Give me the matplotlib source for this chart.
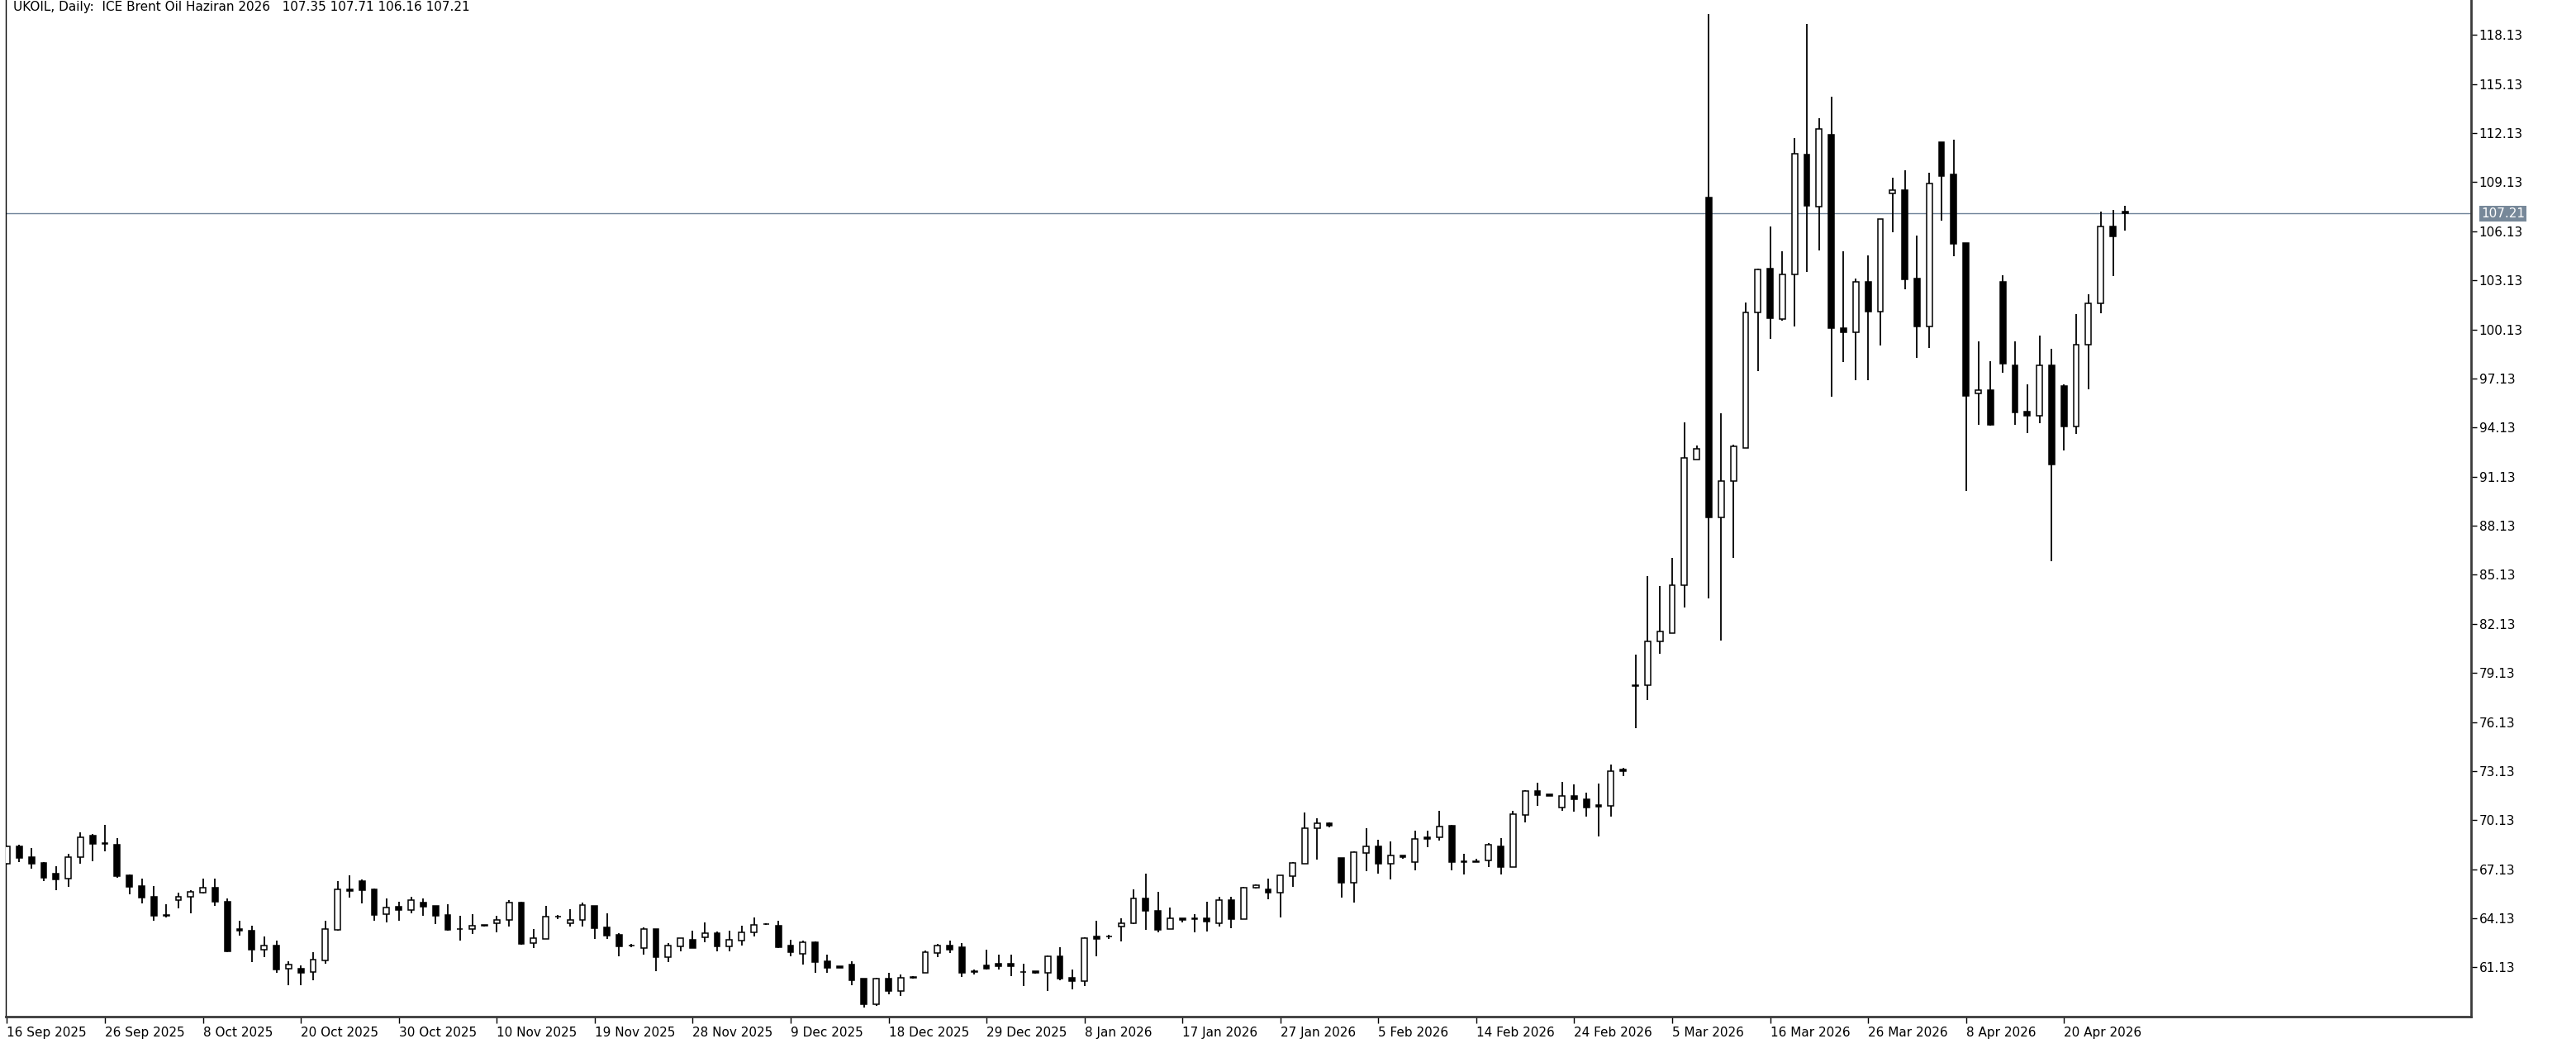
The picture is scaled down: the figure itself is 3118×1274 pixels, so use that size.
import numpy as np
import matplotlib.pyplot as plt
from matplotlib.transforms import blended_transform_factory

# ---- data (daily OHLC, one entry per bar) ----
title = 'UKOIL, Daily:  ICE Brent Oil Haziran 2026   107.35 107.71 106.16 107.21'

opens = [67.47, 68.53, 67.89, 67.52, 66.84, 66.54, 67.87, 69.20, 68.70, 68.63,
         66.76, 66.10, 65.45, 64.29, 65.23, 65.43, 65.70, 66.02, 65.16, 63.46,
         63.39, 62.23, 62.45, 61.04, 61.04, 60.85, 61.57, 63.43, 65.92, 66.41,
         65.92, 64.39, 64.82, 64.66, 65.08, 64.89, 64.32, 63.48, 63.46, 63.68,
         63.81, 64.02, 65.11, 62.62, 62.89, 64.22, 63.81, 64.02, 64.89, 63.58,
         63.12, 62.45, 62.33, 63.48, 61.78, 62.42, 62.82, 62.97, 63.21, 62.42,
         62.79, 63.26, 63.76, 63.68, 62.45, 61.94, 62.67, 61.52, 61.19, 61.32,
         60.43, 58.88, 60.43, 59.69, 60.56, 60.82, 62.03, 62.45, 62.38, 60.85,
         61.24, 61.36, 61.36, 60.85, 60.88, 60.82, 61.83, 60.51, 60.28, 63.01,
         63.00, 63.65, 63.81, 65.33, 64.60, 63.46, 64.13, 64.10, 64.15, 63.81,
         65.24, 64.10, 65.99, 65.92, 65.70, 66.71, 67.47, 69.62, 69.94, 67.80,
         66.32, 68.14, 68.53, 67.47, 67.97, 67.55, 69.10, 69.07, 69.77, 67.58,
         67.58, 67.67, 68.53, 67.26, 70.45, 71.89, 71.71, 70.92, 71.63, 71.42,
         71.04, 71.00, 73.22, 78.35, 78.40, 81.04, 81.59, 84.49, 92.17, 108.21,
         88.64, 90.87, 92.90, 101.16, 103.86, 100.76, 103.48, 110.82, 107.63, 112.03,
         100.23, 99.95, 103.04, 101.23, 108.45, 108.63, 103.22, 100.29, 111.56, 109.60,
         105.40, 96.20, 96.41, 103.04, 97.96, 95.10, 94.87, 97.96, 96.68, 94.20,
         99.20, 101.71, 106.42, 107.35]

highs = [68.60, 68.61, 68.44, 67.58, 67.33, 68.06, 69.40, 69.28, 69.86, 69.02,
         66.83, 66.57, 66.12, 65.01, 65.70, 65.87, 66.57, 66.57, 65.36, 63.96,
         63.68, 63.04, 62.75, 61.52, 61.24, 62.08, 63.96, 66.41, 66.76, 66.49,
         65.95, 65.36, 65.16, 65.45, 65.36, 64.90, 64.97, 64.30, 64.40, 63.75,
         64.30, 65.24, 65.16, 63.48, 64.89, 64.35, 64.69, 65.08, 64.90, 64.42,
         63.21, 62.55, 63.56, 63.49, 62.63, 62.94, 63.39, 63.88, 63.34, 63.39,
         63.68, 64.17, 63.85, 63.96, 62.84, 62.75, 62.72, 61.91, 61.21, 61.52,
         60.44, 60.51, 60.78, 60.68, 60.60, 62.16, 62.55, 62.75, 62.62, 61.02,
         62.20, 61.91, 61.91, 61.36, 60.89, 61.88, 62.37, 60.98, 62.97, 63.96,
         63.14, 64.15, 65.92, 66.84, 65.73, 64.77, 64.14, 64.40, 65.16, 65.45,
         65.45, 66.07, 66.18, 66.57, 66.75, 67.58, 70.61, 70.24, 69.99, 67.81,
         68.22, 69.66, 68.93, 68.81, 67.98, 69.47, 69.49, 70.72, 69.82, 68.06,
         67.75, 68.73, 69.02, 70.70, 71.96, 72.40, 71.72, 72.48, 72.30, 71.81,
         72.38, 73.53, 73.31, 80.23, 85.07, 84.43, 86.17, 94.43, 93.04, 119.43,
         95.02, 93.07, 101.77, 103.86, 106.41, 104.93, 111.83, 118.79, 113.05, 114.35,
         104.93, 103.22, 104.68, 106.87, 109.42, 109.87, 105.85, 109.69, 111.56, 111.74,
         105.40, 99.38, 98.19, 103.44, 99.38, 96.79, 99.77, 98.93, 96.79, 101.07,
         102.27, 107.34, 107.43, 107.71]

lows = [67.40, 67.55, 67.18, 66.41, 65.87, 66.07, 67.47, 67.64, 68.22, 66.62,
        65.58, 65.03, 63.98, 64.18, 64.74, 64.44, 65.65, 64.91, 62.08, 63.06,
        61.46, 61.74, 60.82, 60.06, 60.06, 60.35, 61.37, 63.40, 65.40, 65.03,
        63.96, 63.88, 63.96, 64.44, 64.27, 63.80, 63.40, 62.79, 63.17, 63.64,
        63.26, 63.63, 62.50, 62.33, 62.89, 64.10, 63.65, 63.63, 62.87, 62.87,
        61.83, 62.38, 61.91, 60.90, 61.46, 62.13, 62.30, 62.67, 62.13, 62.13,
        62.47, 63.04, 63.71, 62.30, 61.83, 61.29, 60.78, 60.78, 61.10, 60.03,
        58.66, 58.76, 59.50, 59.39, 60.45, 60.80, 61.74, 62.03, 60.53, 60.70,
        60.99, 60.99, 60.62, 59.97, 60.77, 59.69, 60.35, 59.77, 59.97, 61.83,
        62.87, 62.70, 63.80, 63.43, 63.26, 63.46, 63.90, 63.26, 63.34, 63.65,
        63.51, 64.08, 65.97, 65.28, 64.18, 66.04, 67.46, 67.72, 69.71, 65.40,
        65.11, 67.00, 66.88, 66.51, 67.75, 67.08, 68.48, 68.86, 67.08, 66.79,
        67.55, 67.25, 66.79, 67.25, 69.99, 71.00, 71.62, 70.70, 70.67, 70.36,
        69.15, 70.36, 72.80, 75.73, 77.47, 80.29, 81.59, 83.13, 92.17, 83.71,
        81.10, 86.17, 92.90, 97.57, 99.57, 100.67, 100.29, 103.66, 104.96, 96.03,
        98.12, 97.02, 97.02, 99.16, 106.08, 102.61, 98.41, 98.98, 106.76, 104.61,
        90.25, 94.31, 94.24, 97.47, 94.31, 93.81, 94.38, 85.97, 92.73, 93.75,
        96.45, 101.12, 103.37, 106.16]

closes = [68.53, 67.84, 67.47, 66.59, 66.52, 67.89, 69.10, 68.70, 68.75, 66.71,
          66.07, 65.41, 64.27, 64.30, 65.45, 65.73, 66.02, 65.14, 62.11, 63.40,
          62.21, 62.45, 60.99, 61.32, 60.82, 61.61, 63.48, 65.90, 65.78, 65.87,
          64.35, 64.77, 64.66, 65.24, 64.84, 64.27, 63.43, 63.46, 63.66, 63.70,
          64.02, 65.08, 62.55, 62.90, 64.22, 64.24, 64.02, 64.94, 63.51, 63.06,
          62.42, 62.46, 63.48, 61.74, 62.45, 62.90, 62.32, 63.21, 62.40, 62.82,
          63.29, 63.74, 63.78, 62.38, 62.05, 62.67, 61.46, 61.12, 61.12, 60.36,
          58.88, 60.43, 59.69, 60.48, 60.48, 62.08, 62.45, 62.21, 60.82, 60.86,
          61.07, 61.22, 61.22, 60.83, 60.78, 61.83, 60.43, 60.28, 62.92, 62.89,
          63.02, 63.85, 65.33, 64.57, 63.43, 64.13, 64.02, 64.08, 63.93, 65.24,
          64.10, 66.00, 66.17, 65.70, 66.74, 67.50, 69.62, 69.94, 69.79, 66.32,
          68.17, 68.53, 67.47, 67.97, 67.89, 68.98, 68.97, 69.74, 67.55, 67.59,
          67.60, 68.61, 67.26, 70.50, 71.89, 71.68, 71.63, 71.59, 71.39, 70.92,
          70.95, 73.11, 73.11, 78.40, 81.04, 81.68, 84.52, 92.26, 92.84, 88.64,
          90.87, 92.99, 101.16, 103.80, 100.81, 103.48, 110.88, 107.69, 112.41, 100.23,
          99.94, 103.04, 101.23, 106.87, 108.63, 103.17, 100.29, 109.03, 109.53, 105.36,
          96.07, 96.41, 94.31, 98.03, 95.05, 94.87, 97.96, 91.88, 94.20, 99.20,
          101.71, 106.42, 105.81, 107.21]

date_labels = ['16 Sep 2025', '26 Sep 2025', '8 Oct 2025', '20 Oct 2025', '30 Oct 2025',
               '10 Nov 2025', '19 Nov 2025', '28 Nov 2025', '9 Dec 2025', '18 Dec 2025',
               '29 Dec 2025', '8 Jan 2026', '17 Jan 2026', '27 Jan 2026', '5 Feb 2026',
               '14 Feb 2026', '24 Feb 2026', '5 Mar 2026', '16 Mar 2026', '26 Mar 2026',
               '8 Apr 2026', '20 Apr 2026']
bars_per_label = 8
price_ticks = [61.13, 64.13, 67.13, 70.13, 73.13, 76.13, 79.13, 82.13, 85.13, 88.13,
               91.13, 94.13, 97.13, 100.13, 103.13, 106.13, 109.13, 112.13, 115.13, 118.13]
last_price = 107.21


def main():
    o = np.array(opens)
    h = np.array(highs)
    l = np.array(lows)
    c = np.array(closes)
    x = np.arange(len(o))

    W, H = 3118, 1274
    fig = plt.figure(figsize=(W / 100, H / 100), dpi=100)
    fig.patch.set_facecolor('white')
    ax = fig.add_axes([7 / W, 44 / H, 2984 / W, 1230 / H])

    # bid line behind the candles
    ax.axhline(last_price, color='#6d8198', linewidth=1.0, zorder=1)

    # wicks, then bodies (white = up, black = down)
    ax.vlines(x, l, h, color='black', linewidth=1.3, zorder=2)
    up = c >= o
    bottoms = np.minimum(o, c)
    heights = np.maximum(np.abs(c - o), 0.03)
    ax.bar(x, heights, bottom=bottoms, width=0.46,
           color=np.where(up, 'white', 'black'), edgecolor='black',
           linewidth=1.1, zorder=3)

    ax.set_xlim(-0.1, -0.1 + 2984 / 14.82)
    ax.set_ylim(58.12, 120.27)

    # price scale on the right
    ax.yaxis.tick_right()
    ax.set_yticks(price_ticks)
    ax.set_yticklabels(['%.2f' % p for p in price_ticks])
    ax.tick_params(axis='y', direction='out', length=5, width=1, pad=2,
                   labelsize=11, colors='black')

    # date scale
    xt = [i * bars_per_label for i in range(len(date_labels))]
    ax.set_xticks(xt)
    ax.set_xticklabels(date_labels, ha='left')
    ax.tick_params(axis='x', direction='out', length=5.5, width=1, pad=3,
                   labelsize=11, colors='black')

    ax.spines['top'].set_visible(False)
    ax.spines['left'].set_color('black')
    ax.spines['left'].set_linewidth(1.0)
    ax.spines['right'].set_color('#3a3a3a')
    ax.spines['right'].set_linewidth(2.0)
    ax.spines['bottom'].set_color('#3a3a3a')
    ax.spines['bottom'].set_linewidth(2.0)

    # current price box on the scale
    trans = blended_transform_factory(ax.transAxes, ax.transData)
    ax.text(1 + 12 / 2984, last_price, '%.2f' % last_price, transform=trans,
            ha='left', va='center', fontsize=11, color='white', zorder=5,
            bbox=dict(boxstyle='square,pad=0.15', facecolor='#778899',
                      edgecolor='none'), clip_on=False)

    fig.text(16 / W, 1 - 1 / H, title, ha='left', va='top', fontsize=11,
             color='black')

    fig.savefig('out.png', dpi=100, facecolor='white')
    plt.close('all')


if __name__ == '__main__':
    main()
